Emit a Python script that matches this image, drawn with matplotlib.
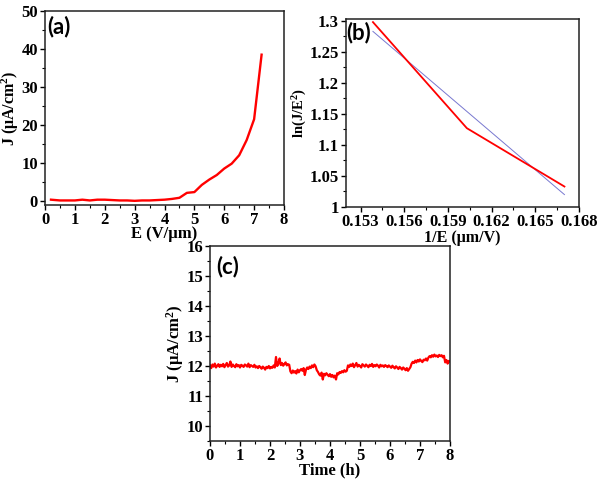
import numpy as np
import matplotlib
matplotlib.use("Agg")
import matplotlib.pyplot as plt
from matplotlib.ticker import MultipleLocator, FormatStrFormatter

plt.rcParams['font.family'] = ['Liberation Serif', 'DejaVu Serif']
plt.rcParams['font.weight'] = 'bold'
plt.rcParams['mathtext.fontset'] = 'custom'
plt.rcParams['mathtext.rm'] = 'Liberation Serif:bold'
plt.rcParams['mathtext.it'] = 'Liberation Serif:bold'
plt.rcParams['mathtext.bf'] = 'Liberation Serif:bold'

# ---- Panel (a): J-E curve ----
field_a = [0.2, 0.5, 0.75, 1.0, 1.25, 1.5, 1.75, 2.0, 2.25, 2.5, 2.75, 3.0, 3.25, 3.5,
           3.75, 4.0, 4.25, 4.5, 4.75, 5.0, 5.25, 5.5, 5.75, 6.0, 6.25, 6.5, 6.75, 7.0, 7.25]
current_a = [0.3, 0.1, 0.1, 0.1, 0.3, 0.1, 0.3, 0.3, 0.2, 0.1, 0.1, 0.0, 0.1, 0.1,
             0.2, 0.3, 0.5, 0.8, 2.1, 2.3, 4.2, 5.6, 6.8, 8.5, 9.8, 12.0, 16.0, 21.5, 38.5]

# ---- Panel (b): F-N plot ----
inv_field_b = [0.15385, 0.1603, 0.1670]
ln_j_e2_b = [1.298, 1.127, 1.033]
fit_x_b = [0.15385, 0.1670]
fit_y_b = [1.283, 1.020]

# ---- Panel (c): stability ----
stability_j = [
    12.02, 11.93, 12.05, 11.98, 12.08, 11.95, 12.01, 12.06, 11.97, 12.04,
    11.99, 12.07, 11.96, 12.03, 12.10, 11.98, 12.02, 12.15, 11.97, 12.05,
    12.00, 11.96, 12.06, 11.99, 12.03, 11.95, 12.04, 12.01, 11.97, 12.05,
    12.02, 11.98, 12.08, 11.96, 12.03, 12.00, 11.97, 12.04, 11.95, 11.99,
    11.93, 12.00, 11.96, 11.91, 11.98, 11.94, 11.88, 11.97, 11.93, 12.00,
    11.92, 11.97, 11.94, 12.02, 11.95, 12.30, 12.00, 12.08, 12.25, 12.03,
    12.10, 12.01, 12.07, 12.12, 12.02, 12.06, 12.04, 11.82, 11.76, 11.85,
    11.78, 11.83, 11.75, 11.88, 11.79, 11.86, 11.90, 11.84, 11.93, 11.70,
    11.88, 11.95, 11.90, 11.98, 11.93, 12.02, 11.96, 12.05, 11.99, 11.86,
    11.80, 11.72, 11.68, 11.78, 11.55, 11.74, 11.69, 11.76, 11.71, 11.66,
    11.73, 11.64, 11.70, 11.62, 11.68, 11.55, 11.76, 11.72, 11.80, 11.77,
    11.83, 11.79, 11.86, 11.81, 11.84, 12.02, 11.97, 12.05, 12.00, 12.08,
    11.96, 12.03, 12.10, 11.98, 12.04, 12.00, 11.95, 12.06, 12.02, 11.98,
    12.05, 12.01, 11.96, 12.04, 12.00, 12.07, 11.97, 12.03, 11.99, 12.05,
    12.01, 11.95, 12.04, 11.99, 12.02, 11.97, 12.03, 12.00, 11.96, 12.02,
    11.98, 11.94, 12.01, 11.96, 11.92, 11.99, 11.95, 11.90, 11.97, 11.93,
    11.88, 11.95, 11.91, 11.86, 11.93, 11.84, 11.90, 11.96, 12.08, 12.14,
    12.10, 12.18, 12.12, 12.20, 12.15, 12.22, 12.17, 12.13, 12.21, 12.19,
    12.25, 12.18, 12.28, 12.33, 12.29, 12.36, 12.31, 12.38, 12.32, 12.35,
    12.30, 12.37, 12.33, 12.36, 12.29, 12.34, 12.12, 12.20, 12.08, 12.17,
    12.15]
time_h = np.linspace(0, 8, len(stability_j))

W, H = 600, 479
fig = plt.figure(figsize=(6.0, 4.79), dpi=100)

def ax_px(l, t, r, b):
    return fig.add_axes([l / W, 1 - b / H, (r - l) / W, (b - t) / H])

ax_a = ax_px(45, 11, 284, 205)
ax_b = ax_px(346, 19, 579, 207)
ax_c = ax_px(210, 246, 450, 441)

TICK_FS = 12
LABEL_FS = 12

def style(ax):
    for s in ax.spines.values():
        s.set_linewidth(1.1)
        s.set_color('#222222')
    ax.tick_params(which='major', direction='out', length=3.5, width=1.0,
                   labelsize=TICK_FS, pad=1.5, top=False, right=False)
    ax.tick_params(which='minor', direction='out', length=2, width=0.8,
                   top=False, right=False)
    for lab in ax.get_xticklabels() + ax.get_yticklabels():
        lab.set_fontweight('bold')

# (a)
ax_a.plot(field_a, current_a, color='#ff0000', lw=1.7)
ax_a.set_xlim(0, 8)
ax_a.set_ylim(-1.1, 50)
ax_a.xaxis.set_major_locator(MultipleLocator(1))
ax_a.xaxis.set_minor_locator(MultipleLocator(0.5))
ax_a.yaxis.set_major_locator(MultipleLocator(10))
ax_a.yaxis.set_minor_locator(MultipleLocator(5))
style(ax_a)
ax_a.set_xlabel('E (V/μm)', fontsize=LABEL_FS, fontweight='bold')
ax_a.set_ylabel('J (μA/cm$^{2}$)', fontsize=LABEL_FS - 0.5, fontweight='bold')
ax_a.xaxis.set_label_coords(0.5, -0.11)
ax_a.yaxis.set_label_coords(-0.1, 0.5)
ax_a.text(0.01, 0.975, '(a)', transform=ax_a.transAxes, fontsize=16,
          fontweight='bold', family=['Lato', 'DejaVu Sans'], va='top', ha='left')

# (b)
ax_b.plot(fit_x_b, fit_y_b, color='#7878d0', lw=0.7)
ax_b.plot(inv_field_b, ln_j_e2_b, color='#ff0000', lw=1.3)
ax_b.set_xlim(0.152, 0.168)
ax_b.set_ylim(1.0, 1.303)
ax_b.set_xticks([0.153, 0.156, 0.159, 0.162, 0.165, 0.168])
ax_b.xaxis.set_minor_locator(MultipleLocator(0.0015))
ax_b.set_yticks([1.0, 1.05, 1.1, 1.15, 1.2, 1.25, 1.3])
ax_b.set_yticklabels(['1', '1.05', '1.1', '1.15', '1.2', '1.25', '1.3'])
ax_b.yaxis.set_minor_locator(MultipleLocator(0.025))
ax_b.xaxis.set_major_formatter(FormatStrFormatter('%.3f'))
style(ax_b)
ax_b.set_xlabel('1/E (μm/V)', fontsize=LABEL_FS - 0.5, fontweight='bold')
ax_b.set_ylabel('ln(J/E$^{2}$)', fontsize=LABEL_FS - 1.5, fontweight='bold')
ax_b.xaxis.set_label_coords(0.5, -0.12)
ax_b.yaxis.set_label_coords(-0.16, 0.5)
ax_b.text(0.0, 0.985, '(b)', transform=ax_b.transAxes, fontsize=16,
          fontweight='bold', family=['Lato', 'DejaVu Sans'], va='top', ha='left')

# (c)
ax_c.plot(time_h, stability_j, color='#ff0000', lw=1.6)
ax_c.set_xlim(0, 8)
ax_c.set_ylim(9.5, 16)
ax_c.xaxis.set_major_locator(MultipleLocator(1))
ax_c.xaxis.set_minor_locator(MultipleLocator(0.5))
ax_c.yaxis.set_major_locator(MultipleLocator(1))
ax_c.yaxis.set_minor_locator(MultipleLocator(0.5))
style(ax_c)
ax_c.set_xlabel('Time (h)', fontsize=LABEL_FS, fontweight='bold')
ax_c.set_ylabel('J (μA/cm$^{2}$)', fontsize=LABEL_FS, fontweight='bold')
ax_c.xaxis.set_label_coords(0.5, -0.11)
ax_c.yaxis.set_label_coords(-0.1, 0.5)
ax_c.text(0.025, 0.95, '(c)', transform=ax_c.transAxes, fontsize=16,
          fontweight='bold', family=['Lato', 'DejaVu Sans'], va='top', ha='left')

fig.savefig('out.png', dpi=100)
